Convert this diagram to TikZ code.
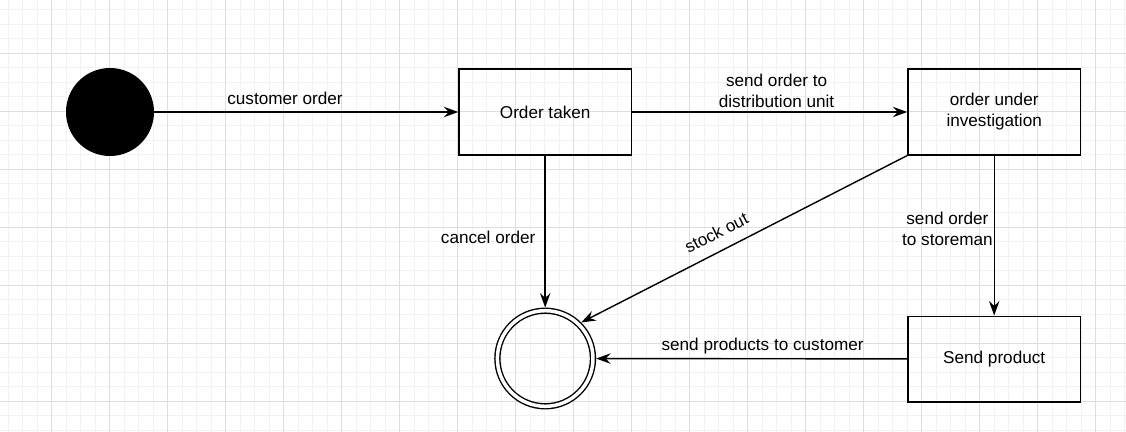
\documentclass[tikz,border=0pt]{standalone}
\usepackage{fontspec}
\setmainfont{Liberation Sans}
\usetikzlibrary{arrows.meta,positioning}
\definecolor{gridmajor}{HTML}{DEDEDE}
\definecolor{gridminor}{HTML}{F2F2F2}
\newcommand{\labelfont}{\fontsize{12.2}{14.9}\selectfont}
\tikzset{
  statebox/.style={draw, line width=1pt, align=center, font=\labelfont,
    minimum width=4.31cm, minimum height=2.14cm, inner sep=2pt},
  startdot/.style={circle, fill=black, minimum size=2.2cm, inner sep=0pt},
  enddot/.style={circle, draw, line width=1pt, double, double distance=0.0875cm,
    minimum size=2.39cm, inner sep=0pt, outer sep=0.08cm},
  arrow/.style={-{Stealth[length=3.6mm, width=2.6mm, inset=1.2mm]}, line width=1pt},
  edgelabel/.style={font=\labelfont, align=center, inner sep=5pt}
}

\begin{document}
\begin{tikzpicture}
  \useasboundingbox[fill=white] (0,0) rectangle (28.15,-10.8);

  % background grid
  \begin{scope}
    \clip (0,0) rectangle (28.15,-10.8);
    \foreach \i in {0,...,77}
      \draw[gridminor, line width=0.6pt] ({0.205+0.3625*\i},0) -- ++(0,-10.8);
    \foreach \j in {0,...,29}
      \draw[gridminor, line width=0.6pt] (0,{-0.245-0.3625*\j}) -- ++(28.15,0);
    \foreach \i in {-1,...,18}
      \draw[gridmajor, line width=0.7pt] ({1.2925+1.45*\i},0) -- ++(0,-10.8);
    \foreach \j in {-1,...,7}
      \draw[gridmajor, line width=0.7pt] (0,{-1.3325-1.45*\j}) -- ++(28.15,0);
  \end{scope}

  % states
  \node[startdot] (start) at (2.75,-2.8) {};
  \node[statebox, right=7.6cm of start] (taken) {Order taken};
  \node[statebox, right=6.88cm of taken] (review) {order under\\investigation};
  \node[statebox, below=4cm of review] (dispatch) {Send product};
  \node[enddot, below=3.8cm of taken] (finish) {};

  % transitions
  \draw[arrow] (start) -- node[edgelabel, above, pos=0.43] {customer order} (taken);
  \draw[arrow] (taken) -- node[edgelabel, above, pos=0.525, inner sep=2.5pt] {send order to\\distribution unit} (review);
  \draw[arrow] (taken) -- node[edgelabel, left, pos=0.54, inner sep=6.5pt] {cancel order} (finish);
  \draw[arrow] (review.south west) -- node[edgelabel, sloped, above, pos=0.56, inner sep=8pt] {stock out} (finish.north east);
  \draw[arrow] (review) -- node[edgelabel, pos=0.46, xshift=-1.17cm] {send order\\to storeman} (dispatch);
  \draw[arrow] (dispatch) -- node[edgelabel, above, pos=0.465, inner sep=3pt] {send products to customer} (finish);
\end{tikzpicture}
\end{document}
